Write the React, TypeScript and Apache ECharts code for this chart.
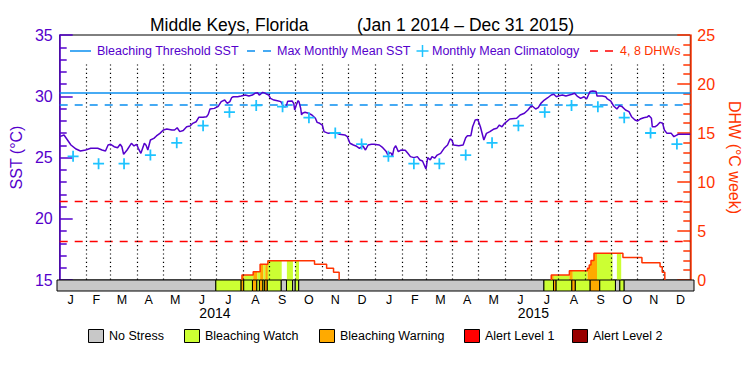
import React, { useEffect, useRef } from "react";
import * as echarts from "echarts";

// ---- data (days counted from Jan 1 2014) ----
const sstDays = [0,5,9,13,19,24,30,36,44,49,53,56,59,63,67,70,72,74,78,83,86,89,91,94,96,98,100,102,105,109,112,116,120,124,130,133,136,139,143,147,151,154,158,161,166,170,172,174,179,183,184,187,191,194,197,199,201,206,210,215,219,223,226,229,231,233,235,238,240,242,244,248,252,256,258,259,262,264,269,271,272,274,276,277,279,280,281,284,288,292,296,298,301,304,306,311,317,321,324,330,333,336,340,343,347,351,354,357,361,364,370,374,378,380,382,384,385,387,389,392,395,400,403,406,410,414,417,420,422,424,426,429,431,434,437,441,445,449,452,454,456,462,467,470,472,476,478,481,484,487,491,494,498,502,506,509,512,515,521,529,533,538,542,545,547,551,554,557,561,565,569,572,575,578,582,586,590,593,596,599,603,607,610,612,614,617,621,622,628,632,634,638,641,645,648,651,655,659,662,666,669,672,676,680,682,685,686,689,692,695,698,700,703,708,711,716,724,730];
const sstValues = [26.70,26.84,26.43,26.02,25.69,25.53,25.61,25.75,25.75,25.61,25.53,26.02,26.08,25.88,25.80,26.08,25.88,25.26,25.61,26.16,25.94,26.08,25.75,25.34,25.75,26.16,26.00,25.61,26.43,26.56,26.76,26.97,27.24,27.33,27.24,27.24,27.43,27.11,27.20,27.51,27.57,27.79,27.92,28.28,28.28,28.33,28.52,28.96,29.01,29.15,29.23,29.56,29.69,29.42,29.56,29.88,29.96,29.96,30.02,30.10,30.02,30.10,30.24,30.29,30.10,30.20,30.32,30.24,30.16,30.10,29.83,29.69,29.64,29.56,29.29,29.15,29.15,29.60,29.62,29.40,28.88,29.30,29.64,29.56,29.00,28.47,28.61,28.69,28.61,28.47,28.20,27.87,27.79,27.65,27.11,26.97,27.02,26.97,26.89,26.84,26.70,26.16,26.02,25.94,25.75,25.94,25.61,26.02,26.08,26.08,26.02,25.80,25.48,25.20,25.40,25.34,25.07,25.75,25.96,25.48,25.61,25.59,25.34,25.07,24.99,25.07,24.80,24.72,24.39,24.06,24.99,24.80,25.07,24.94,25.20,25.34,25.75,26.02,26.51,26.43,26.02,25.96,26.02,26.62,26.78,26.78,27.51,28.06,28.11,27.51,26.43,26.97,27.11,27.30,27.38,27.65,27.51,27.79,28.14,28.20,28.47,28.61,28.88,29.15,29.20,28.96,29.07,29.42,29.69,29.88,30.10,30.16,29.96,30.04,30.10,30.02,30.10,30.16,30.24,30.02,29.83,29.96,29.78,30.10,30.38,30.43,30.38,30.02,30.02,29.96,29.78,29.61,29.23,28.96,29.23,29.15,28.88,28.74,28.33,28.06,27.98,28.14,28.25,28.30,28.42,28.20,27.51,27.51,27.65,27.87,27.79,27.24,26.97,26.97,26.70,26.89,26.89,26.89];

const climValues = [25.1,24.5,24.5,25.2,26.2,27.6,28.7,29.25,29.15,28.25,27.0,26.1];
const mmm = 29.3;
const threshold = 30.3;
const dhwLevels = [4, 8];

const dhwDays = [211,211,224,232,241,295,309,317,323.5,null,569,569,590,611,613,615,618.5,652,674,695,697.5,700.5];
const dhwValues = [0,0.5,0.85,1.6,1.97,1.6,1.19,0.78,0,null,0,0.5,0.95,1.2,1.53,2.0,2.72,2.3,1.77,1.36,0.78,0];

const stressStart = [0,182,211,214,224,229,232,236,238,241,257,263,270,273,277,558,569,572,590,594,611,622,640,645,650];
const stressEnd   = [182,211,214,224,229,232,236,238,241,257,263,270,273,277,558,569,572,590,594,611,622,640,645,650,730];
const stressLevel = [0,1,2,1,2,1,2,1,2,1,0,1,0,1,0,1,2,1,2,1,2,1,0,1,0];

const monthLetters = ["J","F","M","A","M","J","J","A","S","O","N","D"];
const yearLabels = ["2014", "2015"];
const stressNames = ["No Stress","Bleaching Watch","Bleaching Warning","Alert Level 1","Alert Level 2"];
const stressColors = ["#c8c8c8","#ccff33","#ffaa00","#ff0000","#990000"];

const PURPLE = "#5500cc";
const ORANGE = "#ff3300";
const RED = "#ff0000";
const BLUE = "#0a8ff0";
const CYAN = "#1ec3ff";
const FONT = "Liberation Sans";

// calendar helpers
const DAY = 86400000;
const base = Date.UTC(2014, 0, 1);
const monthStarts: number[] = [];
for (let y = 2014; y <= 2016; y++) for (let m = 0; m < 12; m++) {
  const d = (Date.UTC(y, m, 1) - base) / DAY;
  if (d <= 730) monthStarts.push(d);
}
const monthMids: number[] = [];
for (let i = 0; i < monthStarts.length - 1; i++) monthMids.push((monthStarts[i] + monthStarts[i + 1]) / 2);
const yearStarts = [(Date.UTC(2014, 6, 1) - base) / DAY, (Date.UTC(2015, 6, 1) - base) / DAY];

const dhwSteps: [number, number][] = [];
dhwDays.forEach((d, i) => { if (d !== null && dhwValues[i] !== null) dhwSteps.push([d as number, dhwValues[i] as number]); });
function dhwAt(d: number) {
  let v = 0;
  for (const [x, y] of dhwSteps) { if (x <= d) v = y; else break; }
  return v;
}
function fillPoints(s: number, e: number) {
  const pts: number[][] = [[s, 0], [s, dhwAt(s)]];
  for (const [x] of dhwSteps) {
    if (x > s && x < e) { pts.push([x, dhwAt(x - 1e-6)]); pts.push([x, dhwAt(x)]); }
  }
  pts.push([e, dhwAt(e - 1e-6)]);
  pts.push([e, 0]);
  return pts;
}

export default function App() {
  const ref = useRef<HTMLDivElement>(null);
  useEffect(() => {
    if (!ref.current) return;
    const chart = echarts.init(ref.current, null, { renderer: "svg" });
    const sstData = sstDays.map((d, i) => [d, sstValues[i]]);
    const climData = monthMids.map((d, i) => [d, climValues[i % 12]]);
    const dhwData = dhwDays.map((d, i) => (d === null ? null : [d, dhwValues[i]]));
    const segs = stressStart.map((s, i) => [s, stressEnd[i], stressLevel[i]]);
    const fillSegs = segs.filter((s) => s[2] > 0);
    const midLetter = new Map<number, string>();
    monthMids.forEach((m, i) => midLetter.set(Math.round(m * 10), monthLetters[i % 12]));

    const plus = "path://M4.2,0 H5.8 V4.2 H10 V5.8 H5.8 V10 H4.2 V5.8 H0 V4.2 H4.2 Z";

    const legendY = 51;
    const legendText = (x: number, text: string, color: string) => ({
      type: "text", left: x, top: legendY - 7,
      style: { text, fill: color, font: `12.5px '${FONT}'` },
    });
    const hline = (x1: number, x2: number, y: number, color: string, dash?: number[]) => ({
      type: "line", shape: { x1, y1: y, x2, y2: y },
      style: { stroke: color, lineWidth: 1.5, lineDash: dash },
    });
    const bottomBoxes = [88, 184, 319, 464, 572];
    const bottomY = 329;

    const graphic: any[] = [
      hline(70, 91, legendY, BLUE),
      legendText(97, "Bleaching Threshold SST", PURPLE),
      hline(247, 272, legendY, BLUE, [8, 8]),
      legendText(277, "Max Monthly Mean SST", PURPLE),
      { type: "line", shape: { x1: 416.5, y1: legendY, x2: 428.5, y2: legendY }, style: { stroke: CYAN, lineWidth: 1.5 } },
      { type: "line", shape: { x1: 422.5, y1: legendY - 6, x2: 422.5, y2: legendY + 6 }, style: { stroke: CYAN, lineWidth: 1.5 } },
      legendText(432, "Monthly Mean Climatology", PURPLE),
      hline(590, 613, legendY, RED, [8, 7]),
      legendText(620, "4, 8 DHWs", ORANGE),
    ];
    stressNames.forEach((name, i) => {
      graphic.push({
        type: "rect", shape: { x: bottomBoxes[i] + 0.5, y: bottomY + 0.5, width: 15, height: 13 },
        style: { fill: stressColors[i], stroke: "#000", lineWidth: 1 },
      });
      graphic.push({
        type: "text", left: bottomBoxes[i] + 21, top: bottomY,
        style: { text: name, fill: "#000", font: `12.5px '${FONT}'` },
      });
    });

    const option: any = {
      animation: false,
      backgroundColor: "#fff",
      textStyle: { fontFamily: FONT },
      title: [
        { text: "Middle Keys, Florida", left: 145, top: 11, textStyle: { fontSize: 17.5, fontWeight: "normal", color: "#000", fontFamily: FONT } },
        { text: "(Jan 1 2014 – Dec 31 2015)", left: 352, top: 11, textStyle: { fontSize: 17.5, fontWeight: "normal", color: "#000", fontFamily: FONT } },
      ],
      grid: [
        { left: 57, right: 56, top: 35, height: 245, show: true, borderColor: "#000", borderWidth: 1, backgroundColor: "transparent" },
        { left: 57, right: 56, top: 280, height: 11, show: false },
      ],
      xAxis: [
        { type: "value", gridIndex: 0, min: 0, max: 730, show: false },
        {
          type: "value", gridIndex: 1, min: 0, max: 730,
          axisLine: { show: false }, axisTick: { show: false }, splitLine: { show: false },
          axisLabel: {
            customValues: monthMids, margin: 2, fontSize: 12.5, color: "#000", fontFamily: FONT,
            formatter: (v: number) => midLetter.get(Math.round(v * 10)) || "",
          },
        },
        {
          type: "value", gridIndex: 1, min: 0, max: 730, position: "bottom", offset: 13,
          axisLine: { show: false }, axisTick: { show: false }, splitLine: { show: false },
          axisLabel: {
            customValues: yearStarts, margin: 2, fontSize: 14, color: "#000", fontFamily: FONT,
            formatter: (v: number) => (v < 365 ? yearLabels[0] : yearLabels[1]),
          },
        },
      ],
      yAxis: [
        {
          type: "value", gridIndex: 0, min: 15, max: 35, interval: 5, position: "left",
          name: "SST (°C)", nameLocation: "middle", nameGap: 31, nameRotate: 90,
          nameTextStyle: { color: PURPLE, fontSize: 16, fontFamily: FONT },
          axisLine: { show: true, lineStyle: { color: PURPLE, width: 1.5 } },
          axisTick: { show: true, inside: true, length: 13, lineStyle: { color: PURPLE, width: 1.5 } },
          minorTick: { show: true, splitNumber: 5, length: 7, lineStyle: { color: PURPLE, width: 1.5 } },
          axisLabel: { color: PURPLE, fontSize: 16, margin: 7, fontFamily: FONT, padding: [6, 0, 0, 0] },
          splitLine: { show: false },
        },
        {
          type: "value", gridIndex: 0, min: 0, max: 25, interval: 5, position: "right",
          name: "DHW (°C week)", nameLocation: "middle", nameGap: 21, nameRotate: -90,
          nameTextStyle: { color: ORANGE, fontSize: 16, fontFamily: FONT },
          axisLine: { show: true, lineStyle: { color: ORANGE, width: 1.5 } },
          axisTick: { show: true, inside: true, length: 13, lineStyle: { color: ORANGE, width: 1.5 } },
          minorTick: { show: true, splitNumber: 5, length: 7, lineStyle: { color: ORANGE, width: 1.5 } },
          axisLabel: { color: ORANGE, fontSize: 16, margin: 7, fontFamily: FONT, padding: [6, 0, 0, 0] },
          splitLine: { show: false },
        },
        { type: "value", gridIndex: 1, min: 0, max: 1, show: false },
      ],
      graphic,
      series: [
        {
          type: "custom", xAxisIndex: 0, yAxisIndex: 1, silent: true, z: 1,
          data: fillSegs,
          renderItem: (_p: any, api: any) => {
            const s = api.value(0), e = api.value(1), lvl = api.value(2);
            const pts = fillPoints(s, e).map((p) => api.coord(p));
            return { type: "polygon", shape: { points: pts }, style: { fill: stressColors[lvl] } };
          },
        },
        {
          type: "custom", xAxisIndex: 1, yAxisIndex: 2, silent: true, z: 2,
          data: segs,
          renderItem: (_p: any, api: any) => {
            const s = api.value(0), e = api.value(1), lvl = api.value(2);
            const a = api.coord([s, 1]);
            const b = api.coord([e, 0]);
            return {
              type: "rect",
              shape: { x: a[0], y: a[1], width: b[0] - a[0], height: b[1] - a[1] },
              style: { fill: stressColors[lvl], stroke: "#000", lineWidth: 1 },
            };
          },
        },
        {
          type: "line", xAxisIndex: 0, yAxisIndex: 1, data: dhwData, step: "end",
          showSymbol: false, symbol: "none", connectNulls: false, z: 3,
          lineStyle: { color: ORANGE, width: 1.5 },
          markLine: {
            silent: true, symbol: ["none", "none"], label: { show: false },
            data: dhwLevels.map((v) => [
              { coord: [0, v], lineStyle: { color: RED, width: 1.3, type: [8, 7] } },
              { coord: [730, v] },
            ]),
          },
        },
        {
          type: "line", xAxisIndex: 0, yAxisIndex: 0, data: sstData,
          showSymbol: false, symbol: "none", z: 5,
          lineStyle: { color: PURPLE, width: 1.5 },
          markLine: {
            silent: true, symbol: ["none", "none"], label: { show: false },
            data: [
              { yAxis: threshold, lineStyle: { color: BLUE, width: 1.5, type: "solid" } },
              { yAxis: mmm, lineStyle: { color: BLUE, width: 1.5, type: [8, 7] } },
              ...monthStarts.filter((d) => d > 0 && d < 730).map((d) => [
                { coord: [d, 32.6], lineStyle: { color: "#000", width: 1.2, type: [1.2, 3] } },
                { coord: [d, 15] },
              ]),
            ],
          },
        },
        {
          type: "scatter", xAxisIndex: 0, yAxisIndex: 0, data: climData,
          symbol: plus, symbolSize: 11, z: 6,
          itemStyle: { color: CYAN, opacity: 1 },
        },
      ],
    };
    chart.setOption(option);
    return () => chart.dispose();
  }, []);
  return <div ref={ref} style={{ position: "fixed", left: 0, top: 0, width: 750, height: 375, background: "#fff" }} />;
}
